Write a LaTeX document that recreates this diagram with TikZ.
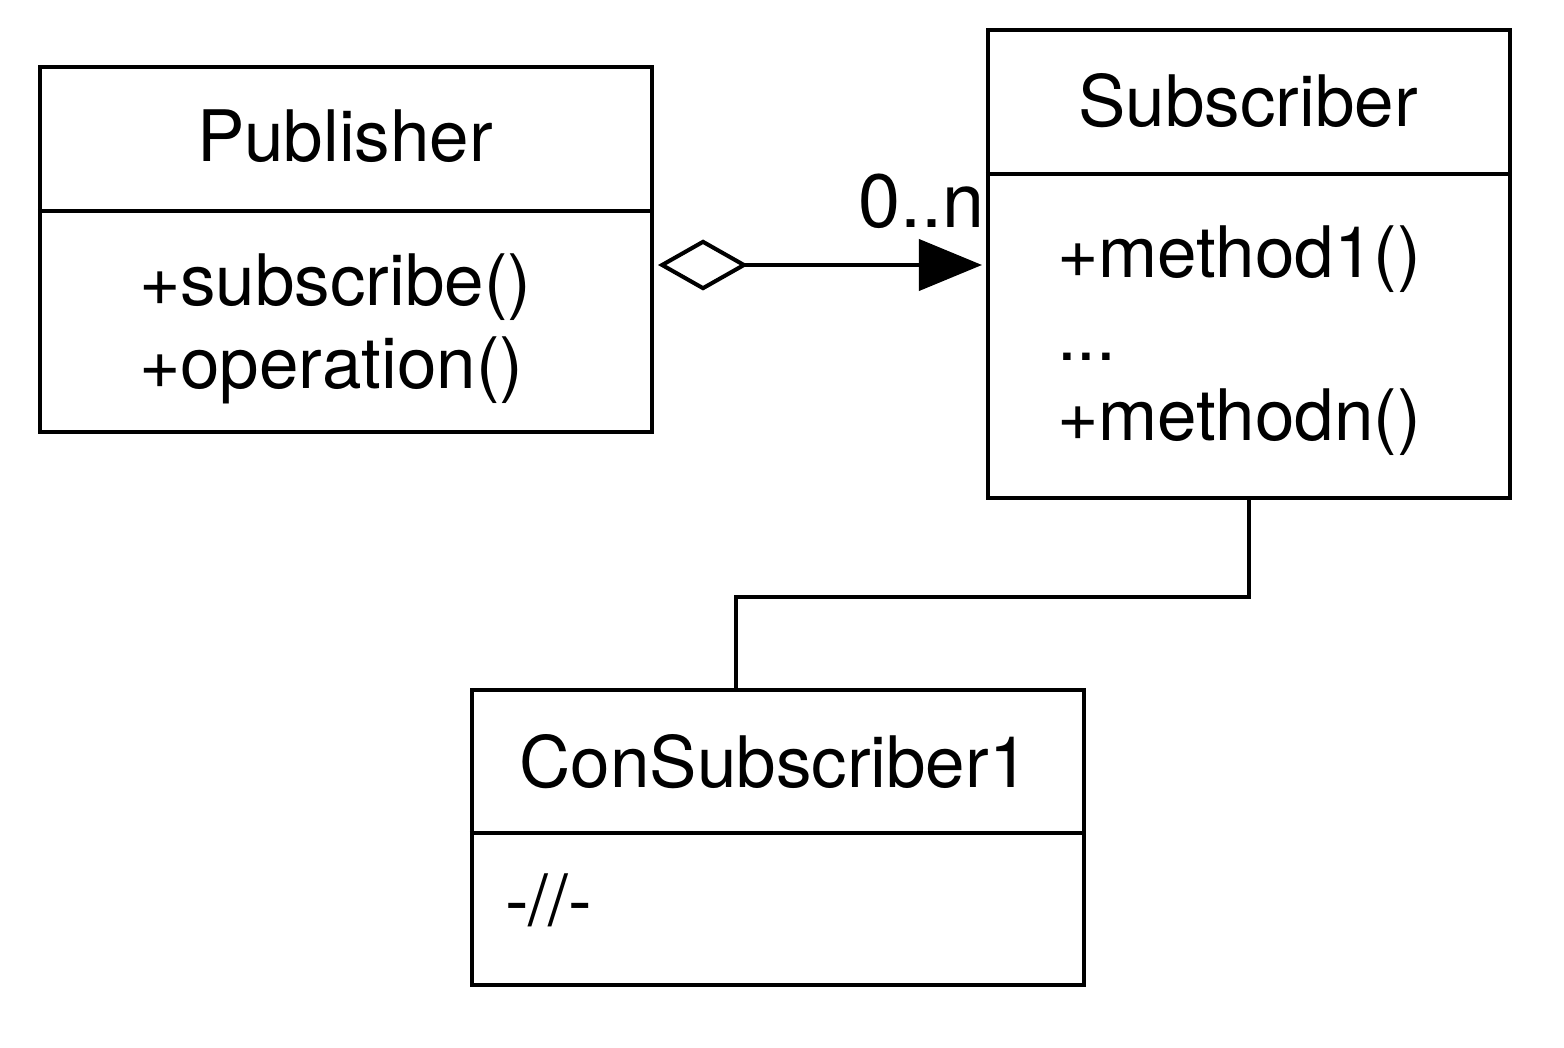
\documentclass[tikz,border=0pt]{standalone}
\usepackage{fontspec}
\setmainfont{TeX Gyre Heros}
\usetikzlibrary{arrows.meta,positioning}

\begin{document}
\begin{tikzpicture}[line width=1.15pt,
  classbox/.style={draw, rectangle, inner sep=0pt},
  title/.style={anchor=base, inner sep=0pt, font=\fontsize{20.2}{24}\selectfont},
  member/.style={anchor=base west, inner sep=0pt, font=\fontsize{20.2}{24}\selectfont}]
\useasboundingbox (0,0) rectangle (15.64,-10.48);

% classes
\node[classbox, minimum width=6.12cm, minimum height=3.65cm] (pub) at (3.46,-2.495) {};
\node[classbox, minimum width=5.22cm, minimum height=4.68cm] (sub) at (12.49,-2.64) {};
\node[classbox, minimum width=6.12cm, minimum height=2.95cm] (con) at (7.78,-8.375) {};

\draw (pub.west |- 0,-2.11) -- (pub.east |- 0,-2.11);
\draw (sub.west |- 0,-1.74) -- (sub.east |- 0,-1.74);
\draw (con.west |- 0,-8.33) -- (con.east |- 0,-8.33);

% names and members
\node[title] (pubname) at (3.45,-1.62) {Publisher};
\node[member] (pubm1) at (1.37,-3.05) {+subscribe()};
\node[member] (pubm2) at (1.37,-3.88) {+operation()};

\node[title] (subname) at (12.48,-1.27) {Subscriber};
\node[member] (subm1) at (10.55,-2.77) {+method1()};
\node[member] (subdots) at (10.55,-3.60) {...};
\node[member] (subm2) at (10.55,-4.40) {+methodn()};

\node[title] (conname) at (7.74,-7.87) {ConSubscriber1};
\node[member] (conm1) at (5.03,-9.25) {-//-};

% relations
\coordinate (aggfrom) at ([xshift=0.04cm]pub.east |- 0,-2.65);
\coordinate (aggto) at ([xshift=-0.04cm]sub.west |- 0,-2.65);
\draw[{Diamond[open,length=0.9cm,width=0.51cm]}-{Triangle[length=0.63cm,width=0.51cm]}]
  (aggfrom) -- (aggto);
\node[member, font=\fontsize{21.5}{24}\selectfont] (mult) at (8.56,-2.28) {0..n};

\draw (sub.south) -- ++(0,-0.97) -| ([xshift=-0.42cm]con.north);
\end{tikzpicture}
\end{document}
